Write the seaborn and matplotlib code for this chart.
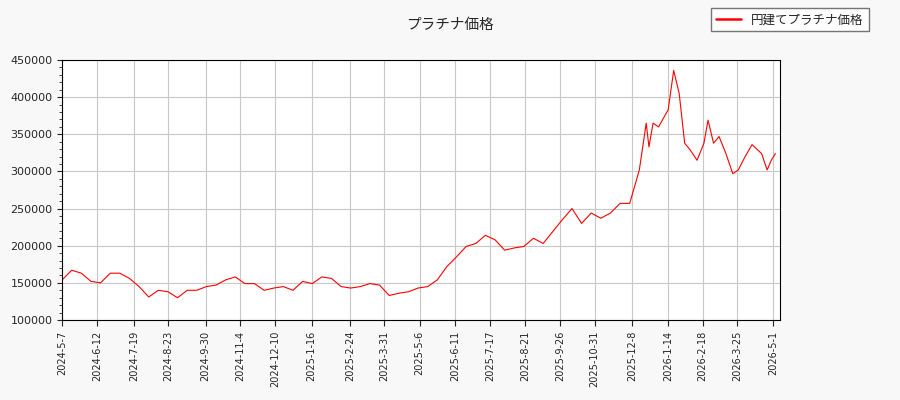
import matplotlib
matplotlib.use("Agg")
import matplotlib.pyplot as plt
from matplotlib.ticker import MultipleLocator
import pandas as pd
import seaborn as sns

sns.set_style("white")
plt.rcParams['font.family'] = ['Noto Sans CJK JP', 'DejaVu Sans']

# ---- data (reading positions along the x axis, price in yen) ----
start = pd.Timestamp("2024-05-07")
day_offsets = [0, 7, 14, 21, 28, 35, 42, 49, 56, 63, 70, 77, 84, 91, 98, 105,
               112, 119, 126, 133, 140, 147, 154, 161, 168, 175, 182, 189, 196,
               203, 210, 217, 224, 231, 238, 245, 252, 259, 266, 273, 280, 287,
               294, 301, 308, 315, 322, 329, 336, 343, 350, 357, 364, 371, 378,
               385, 392, 399, 406, 413, 420, 425, 427, 430, 434, 441, 445, 449,
               453, 457, 462, 467, 470, 474, 478, 483, 488, 492, 497, 502, 509,
               513, 516, 519]
prices = [154000, 167000, 163000, 152000, 150000, 163000, 163000, 156000, 145000,
          131000, 140000, 138000, 130000, 140000, 140000, 145000, 147000, 154000,
          158000, 149000, 149000, 140000, 143000, 145000, 140000, 152000, 149000,
          158000, 156000, 145000, 143000, 145000, 149000, 147000, 133000, 136000,
          138000, 143000, 145000, 154000, 172000, 185000, 199000, 203000, 214000,
          208000, 194000, 197000, 199000, 210000, 203000, 219000, 235000, 250000,
          230000, 244000, 237000, 244000, 257000, 257000, 302000, 365000, 333000,
          365000, 360000, 383000, 436000, 405000, 338000, 329000, 315000, 338000,
          369000, 338000, 347000, 324000, 297000, 302000, 320000, 336000, 324000,
          302000, 315000, 324000]
tick_labels = ["2024-5-7", "2024-6-12", "2024-7-19", "2024-8-23", "2024-9-30",
               "2024-11-4", "2024-12-10", "2025-1-16", "2025-2-24", "2025-3-31",
               "2025-5-6", "2025-6-11", "2025-7-17", "2025-8-21", "2025-9-26",
               "2025-10-31", "2025-12-8", "2026-1-14", "2026-2-18", "2026-3-25",
               "2026-5-1"]

span_days = (pd.Timestamp("2026-05-03") - start).days
df = pd.DataFrame({
    "date": [start + pd.Timedelta(days=d * span_days / day_offsets[-1]) for d in day_offsets],
    "price": prices,
})

fig = plt.figure(figsize=(9, 4), dpi=100, facecolor="#f8f8f8")
ax = fig.add_axes([0.069, 0.2, 0.798, 0.65])
sns.lineplot(data=df, x="date", y="price", color="red", linewidth=0.8,
             label="円建てプラチナ価格", ax=ax)

ticks = pd.to_datetime(tick_labels, format="%Y-%m-%d")
ax.set_xticks(ticks)
ax.set_xticklabels(tick_labels, rotation=90, fontsize=7, family="DejaVu Sans")
ax.set_xlim(start, pd.Timestamp("2026-05-08"))
ax.set_ylim(100000, 450000)
ax.yaxis.set_major_locator(MultipleLocator(50000))
ax.yaxis.set_minor_locator(MultipleLocator(10000))
ax.tick_params(axis="y", labelsize=8, which="both", left=True)
ax.tick_params(axis="x", bottom=True, length=4)
ax.tick_params(axis="y", which="minor", length=2)
for lab in ax.get_yticklabels():
    lab.set_family("DejaVu Sans")
ax.grid(True, color="#c8c8c8", linewidth=0.8)
ax.set_xlabel("")
ax.set_ylabel("")
for s in ax.spines.values():
    s.set_color("black")

fig.suptitle("プラチナ価格", x=0.5, y=0.955, fontsize=10.5)
ax.legend_.remove()
leg = fig.legend(*ax.get_legend_handles_labels(), loc="upper right",
                 bbox_to_anchor=(0.972, 0.995), fontsize=9, frameon=True,
                 fancybox=False, edgecolor="#555555")
for h in leg.get_lines():
    h.set_linewidth(1.8)

fig.savefig("out.png", dpi=100, facecolor=fig.get_facecolor())
